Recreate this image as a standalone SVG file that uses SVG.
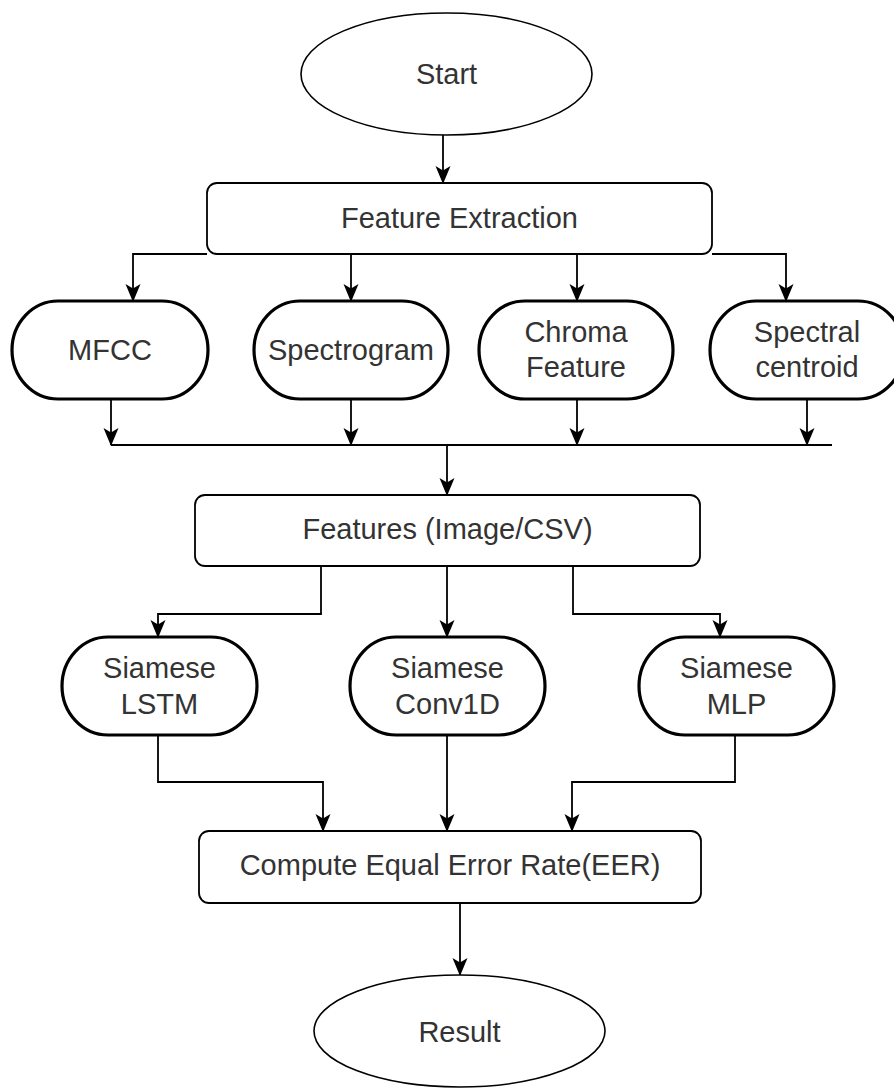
<svg xmlns="http://www.w3.org/2000/svg" width="894" height="1090" viewBox="0 0 894 1090">
<style>
  .bg{fill:#ffffff}
  .ell{fill:#ffffff;stroke:#000;stroke-width:1.6}
  .box{fill:#ffffff;stroke:#000;stroke-width:1.8}
  .pill{fill:#ffffff;stroke:#000;stroke-width:3.2}
  .lbl{font-family:"Liberation Sans",Arial,sans-serif;font-size:29px;fill:#333333;text-anchor:middle}
  .edge{fill:none;stroke:#000;stroke-width:1.8}
</style>
<defs>
  <marker id="arr" markerUnits="userSpaceOnUse" markerWidth="18" markerHeight="18" viewBox="0 0 18 18" refX="17" refY="9" orient="auto">
    <path d="M0,1.5 L18,9 L0,16.5 L4.5,9 Z" fill="#000"/>
  </marker>
</defs>
<rect class="bg" x="0" y="0" width="894" height="1090"/>

<g id="connectors">
  <path class="edge" d="M443,135 V183" marker-end="url(#arr)"/>
  <path class="edge" d="M207,254 H133 V301" marker-end="url(#arr)"/>
  <path class="edge" d="M351,254 V301" marker-end="url(#arr)"/>
  <path class="edge" d="M577,254 V301" marker-end="url(#arr)"/>
  <path class="edge" d="M712,254 H786 V301" marker-end="url(#arr)"/>
  <path class="edge" d="M111,399 V445" marker-end="url(#arr)"/>
  <path class="edge" d="M351,399 V445" marker-end="url(#arr)"/>
  <path class="edge" d="M577,399 V445" marker-end="url(#arr)"/>
  <path class="edge" d="M807,399 V445" marker-end="url(#arr)"/>
  <path class="edge" d="M111,445 H832"/>
  <path class="edge" d="M447,445 V495" marker-end="url(#arr)"/>
  <path class="edge" d="M321,566 V614 H158 V637" marker-end="url(#arr)"/>
  <path class="edge" d="M447,566 V637" marker-end="url(#arr)"/>
  <path class="edge" d="M573,566 V614 H720 V637" marker-end="url(#arr)"/>
  <path class="edge" d="M158,735 V782 H323 V831" marker-end="url(#arr)"/>
  <path class="edge" d="M447,735 V831" marker-end="url(#arr)"/>
  <path class="edge" d="M735,735 V782 H572 V831" marker-end="url(#arr)"/>
  <path class="edge" d="M460,903 V975" marker-end="url(#arr)"/>
</g>

<g id="start">
  <ellipse class="ell" cx="446.5" cy="74" rx="145.5" ry="61"/>
  <text class="lbl" x="446.5" y="84">Start</text>
</g>
<g id="feature-extraction">
  <rect class="box" x="207" y="183" width="505" height="71" rx="10"/>
  <text class="lbl" x="459.5" y="228">Feature Extraction</text>
</g>
<g id="mfcc">
  <rect class="pill" x="12" y="301" width="196" height="98" rx="46" ry="49"/>
  <text class="lbl" x="110" y="360">MFCC</text>
</g>
<g id="spectrogram">
  <rect class="pill" x="254" y="301" width="194" height="98" rx="46" ry="49"/>
  <text class="lbl" x="351" y="360">Spectrogram</text>
</g>
<g id="chroma">
  <rect class="pill" x="479" y="301" width="194" height="98" rx="46" ry="49"/>
  <text class="lbl" x="576" y="342">Chroma</text>
  <text class="lbl" x="576" y="377">Feature</text>
</g>
<g id="spectral-centroid">
  <rect class="pill" x="710" y="301" width="194" height="98" rx="46" ry="49"/>
  <text class="lbl" x="807" y="342">Spectral</text>
  <text class="lbl" x="807" y="377">centroid</text>
</g>
<g id="features">
  <rect class="box" x="195" y="495" width="505" height="71" rx="10"/>
  <text class="lbl" x="447.5" y="539">Features (Image/CSV)</text>
</g>
<g id="siamese-lstm">
  <rect class="pill" x="62" y="637" width="195" height="98" rx="46" ry="49"/>
  <text class="lbl" x="159.5" y="678">Siamese</text>
  <text class="lbl" x="159.5" y="714">LSTM</text>
</g>
<g id="siamese-conv1d">
  <rect class="pill" x="350" y="637" width="195" height="98" rx="46" ry="49"/>
  <text class="lbl" x="447.5" y="678">Siamese</text>
  <text class="lbl" x="447.5" y="714">Conv1D</text>
</g>
<g id="siamese-mlp">
  <rect class="pill" x="639" y="637" width="195" height="98" rx="46" ry="49"/>
  <text class="lbl" x="736.5" y="678">Siamese</text>
  <text class="lbl" x="736.5" y="714">MLP</text>
</g>
<g id="compute-eer">
  <rect class="box" x="199" y="831" width="502" height="72" rx="10"/>
  <text class="lbl" x="450" y="875">Compute Equal Error Rate(EER)</text>
</g>
<g id="result">
  <ellipse class="ell" cx="459.5" cy="1031" rx="145.5" ry="56"/>
  <text class="lbl" x="459.5" y="1042">Result</text>
</g>
</svg>
